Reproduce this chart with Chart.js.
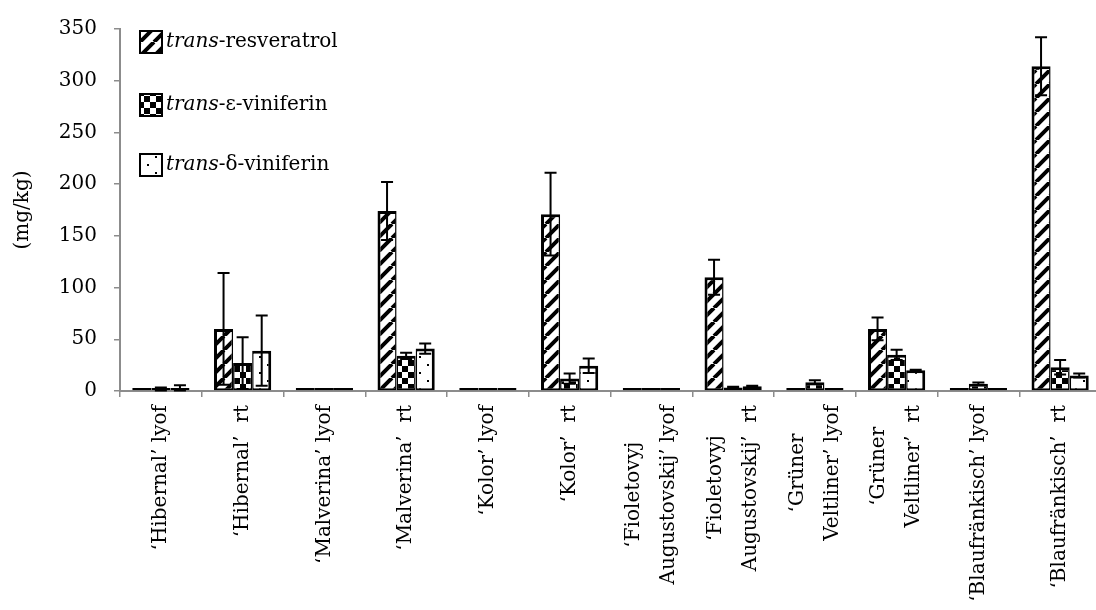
<!DOCTYPE html>
<html>
<head>
<meta charset="utf-8">
<script src="https://cdn.jsdelivr.net/npm/chart.js@4.4.0/dist/chart.umd.min.js"></script>
<style>
    html, body { margin: 0; padding: 0; background: #fff; overflow: hidden; }
</style>
</head>
<body>
<canvas id="grafico" width="1102" height="610"></canvas>
<script>
// Datos (mg/kg)
const categorias = [
    ['‘Hibernal’ lyof'], ['‘Hibernal’  rt'],
    ['‘Malverina’ lyof'], ['‘Malverina’  rt'],
    ['‘Kolor’ lyof'], ['‘Kolor’  rt'],
    ['‘Fioletovyj', 'Augustovskij’ lyof'], ['‘Fioletovyj', 'Augustovskij’  rt'],
    ['‘Grüner', 'Veltliner’ lyof'], ['‘Grüner', 'Veltliner’  rt'],
    ['‘Blaufränkisch’ lyof'], ['‘Blaufränkisch’  rt']
];
const resveratrol    = [0, 60, 0, 174, 0, 171, 0, 110, 0, 60, 0, 314];
const resveratrolErr = [0, 54, 0, 28, 0, 40, 0, 17, 0, 11, 0, 28];
const epsilon        = [2, 27, 0, 34, 0, 12, 0, 3.5, 8.5, 35, 7, 23];
const epsilonErr     = [1.5, 25, 0, 3, 0, 5, 0, 0.5, 2, 5, 1.3, 7];
const delta          = [3, 39, 0, 41, 0, 24.5, 0, 4.5, 0.5, 20, 0.5, 15];
const deltaErr       = [2.5, 34, 0, 5, 0, 7, 0, 0.5, 0, 0.5, 0, 2];
const series = [
    { prefijo: 'trans', nombre: '-resveratrol', datos: resveratrol, errores: resveratrolErr },
    { prefijo: 'trans', nombre: '-ε-viniferin', datos: epsilon, errores: epsilonErr },
    { prefijo: 'trans', nombre: '-δ-viniferin', datos: delta, errores: deltaErr }
];
const yTicks = { min: 0, max: 350, paso: 50 };

const FUENTE = '"DejaVu Serif", "Liberation Serif", serif';

function crearPatron(tamano, dibujar) {
    const c = document.createElement('canvas');
    c.width = c.height = tamano;
    const ctx = c.getContext('2d');
    ctx.fillStyle = '#fff';
    ctx.fillRect(0, 0, tamano, tamano);
    ctx.fillStyle = '#000';
    ctx.strokeStyle = '#000';
    dibujar(ctx, tamano);
    return ctx.createPattern(c, 'repeat');
}

const patrones = [
    crearPatron(14, (ctx, s) => {
        ctx.lineWidth = 4;
        ctx.beginPath();
        for (let k = -1; k <= 1; k++) {
            ctx.moveTo(k * s, s);
            ctx.lineTo(k * s + s, 0);
        }
        ctx.stroke();
    }),
    crearPatron(12, (ctx) => {
        ctx.fillRect(0, 0, 6, 6);
        ctx.fillRect(6, 6, 6, 6);
    }),
    crearPatron(16, (ctx) => {
        ctx.fillRect(3, 4, 2, 2);
        ctx.fillRect(11, 12, 2, 2);
    })
];

// bordes compartidos entre barras vecinas de ~3px
const bordes = [
    { left: 3, right: 1.5, top: 3, bottom: 2 },
    { left: 1.5, right: 1.5, top: 3, bottom: 2 },
    { left: 1.5, right: 3, top: 3, bottom: 2 }
];

const barrasError = {
    id: 'barrasError',
    afterDatasetsDraw(chart) {
        const ctx = chart.ctx;
        const y = chart.scales.y;
        ctx.save();
        ctx.strokeStyle = '#000';
        ctx.lineWidth = 2;
        series.forEach((serie, i) => {
            chart.getDatasetMeta(i).data.forEach((barra, j) => {
                const err = serie.errores[j];
                if (!err) return;
                const arriba = y.getPixelForValue(serie.datos[j] + err);
                const abajo = y.getPixelForValue(Math.max(serie.datos[j] - err, 0));
                ctx.beginPath();
                ctx.moveTo(barra.x, arriba);
                ctx.lineTo(barra.x, abajo);
                ctx.moveTo(barra.x - 6, arriba);
                ctx.lineTo(barra.x + 6, arriba);
                ctx.moveTo(barra.x - 6, abajo);
                ctx.lineTo(barra.x + 6, abajo);
                ctx.stroke();
            });
        });
        ctx.restore();
    }
};

const etiquetasX = {
    id: 'etiquetasX',
    afterDraw(chart) {
        const ctx = chart.ctx;
        const x = chart.scales.x;
        const y0 = chart.chartArea.bottom + 14;
        ctx.save();
        ctx.font = '20px ' + FUENTE;
        ctx.fillStyle = '#000';
        ctx.textAlign = 'center';
        ctx.textBaseline = 'middle';
        categorias.forEach((lineas, i) => {
            const ancho = Math.max(...lineas.map(l => ctx.measureText(l).width));
            ctx.save();
            ctx.translate(x.getPixelForValue(i), y0);
            ctx.rotate(-Math.PI / 2);
            lineas.forEach((linea, k) => {
                ctx.fillText(linea, -ancho / 2, (k - (lineas.length - 1) / 2) * 35);
            });
            ctx.restore();
        });
        ctx.restore();
    }
};

const leyenda = {
    id: 'leyenda',
    afterDraw(chart) {
        const ctx = chart.ctx;
        const centros = [42, 105, 165];
        ctx.save();
        ctx.textBaseline = 'middle';
        series.forEach((serie, i) => {
            const cy = centros[i];
            ctx.fillStyle = patrones[i];
            ctx.fillRect(139, cy - 12, 24, 24);
            ctx.strokeStyle = '#000';
            ctx.lineWidth = 2;
            ctx.strokeRect(140, cy - 11, 22, 22);
            ctx.fillStyle = '#000';
            ctx.font = 'italic 20px ' + FUENTE;
            ctx.fillText(serie.prefijo, 166, cy);
            const w = ctx.measureText(serie.prefijo).width;
            ctx.font = '20px ' + FUENTE;
            ctx.fillText(serie.nombre, 166 + w, cy);
        });
        ctx.restore();
    }
};

new Chart(document.getElementById('grafico'), {
    type: 'bar',
    data: {
        labels: categorias,
        datasets: series.map((serie, i) => ({
            label: serie.prefijo + serie.nombre,
            data: serie.datos,
            backgroundColor: patrones[i],
            borderColor: '#000',
            borderWidth: bordes[i],
            borderSkipped: false,
            minBarLength: 3,
            categoryPercentage: 0.7,
            barPercentage: 1.0
        }))
    },
    options: {
        responsive: false,
        animation: false,
        layout: { padding: { top: 20, right: 1, left: 0, bottom: 0 } },
        plugins: {
            legend: { display: false },
            tooltip: { enabled: false }
        },
        scales: {
            x: {
                grid: { drawOnChartArea: false, drawTicks: true, tickLength: 6, color: '#8c8c8c', lineWidth: 1.5 },
                border: { color: '#8c8c8c', width: 2 },
                ticks: { display: false },
                afterFit(scale) { scale.height = 219; }
            },
            y: {
                min: yTicks.min,
                max: yTicks.max,
                grid: { drawOnChartArea: false, drawTicks: true, tickLength: 6, color: '#8c8c8c', lineWidth: 1.5 },
                border: { color: '#8c8c8c', width: 2 },
                ticks: {
                    stepSize: yTicks.paso,
                    color: '#000',
                    padding: 17,
                    font: { family: FUENTE, size: 20 }
                },
                title: {
                    display: true,
                    text: '(mg/kg)',
                    color: '#000',
                    padding: { top: 11, bottom: 0 },
                    font: { family: FUENTE, size: 20 }
                },
                afterFit(scale) { scale.width = 120; }
            }
        }
    },
    plugins: [barrasError, etiquetasX, leyenda]
});
</script>
</body>
</html>
